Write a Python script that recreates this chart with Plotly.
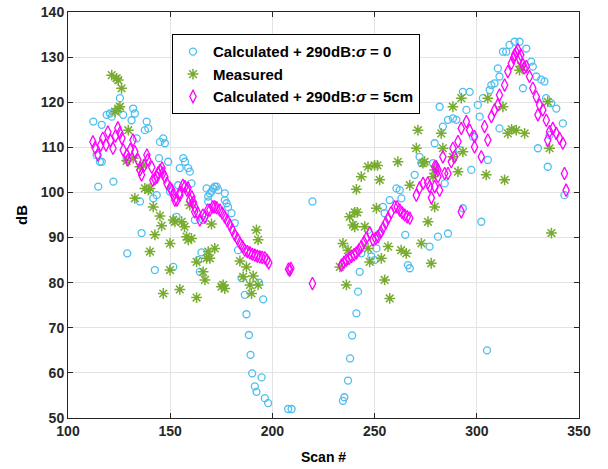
import plotly.graph_objects as go

# Calculated + 290dB, sigma = 0  (cyan circles)
calc0_x = [112.4, 114.0, 114.8, 115.6, 116.5, 116.5, 118.9, 120.5, 121.4, 122.2, 125.4, 127.0, 128.7, 129.0,
           131.1, 131.9, 132.7, 133.6, 135.2, 136.0, 137.6, 138.5, 139.3, 141.7, 142.5, 143.4, 144.5, 145.0,
           146.6, 147.4, 149.0, 149.9, 151.5, 153.1, 153.9, 154.7, 156.4, 157.2, 158.8, 159.6, 160.4, 162.1,
           163.7, 164.5, 165.3, 166.1, 167.8, 168.6, 168.6, 169.4, 170.2, 171.0, 171.8, 172.7, 173.5, 176.7,
           176.7, 177.6, 178.3, 180.0, 181.6, 183.2, 184.9, 186.5, 187.3, 188.5, 189.3, 190.1, 191.4, 192.2,
           193.5, 194.7, 195.5, 196.3, 197.9, 207.7, 209.4, 219.6,
           234.5, 235.2, 237.0, 238.0, 239.0, 241.1, 241.9, 242.7, 243.5, 246.8, 248.4, 250.0, 250.9, 252.5,
           254.1, 254.9, 257.4, 260.7, 262.3, 263.1, 265.0, 266.3, 267.2, 269.6, 272.0, 272.9, 276.9, 278.6,
           279.4, 281.0, 281.8, 283.4, 284.3, 285.9, 285.9, 288.3, 290.0, 305.0, 291.6, 293.2, 293.2, 294.9,
           296.5, 297.3, 298.1, 300.5, 301.4, 302.2, 303.0, 305.4, 306.3, 307.1, 308.7, 310.3, 311.1, 311.1,
           312.8, 314.4, 316.0, 318.5, 320.9, 322.6, 324.2, 326.6, 327.4, 329.1, 329.9, 331.5, 333.1, 333.9,
           334.7, 335.6, 336.4, 338.9, 342.1, 342.9]
calc0_y = [115.7, 108.3, 101.3, 106.8, 115.0, 106.8, 117.2, 117.5, 116.8, 102.4, 120.9, 117.2, 107.2, 86.5,
           116.0, 118.6, 117.5, 112.0, 98.0, 91.0, 113.8, 115.7, 114.2, 98.7, 82.8, 99.4, 107.6, 111.2,
           112.0, 110.9, 106.8, 100.2, 83.5, 94.6, 101.6, 105.4, 107.6, 106.8, 105.4, 104.6, 102.0, 93.9,
           85.0, 82.4, 86.7, 93.9, 100.9, 99.1, 98.0, 99.8, 100.2, 100.9, 101.3, 101.3, 100.5, 99.8,
           98.3, 97.6, 96.8, 95.4, 93.2, 87.2, 81.0, 77.3, 73.0, 68.4, 64.0, 59.9, 57.0, 55.8,
           80.0, 59.0, 76.3, 54.4, 53.3, 52.0, 52.0, 98.0,
           53.8, 54.6, 58.3, 63.2, 68.3, 73.2, 78.0, 82.4, 86.5, 91.7, 85.8, 85.0, 87.6, 90.9,
           96.8, 95.4, 98.3, 100.9, 100.5, 98.7, 90.6, 83.9, 83.2, 103.9, 107.9, 106.5, 88.0, 106.5,
           110.9, 90.2, 119.0, 114.6, 102.0, 116.1, 90.9, 116.4, 116.1, 65.0, 109.4, 122.3, 96.5, 118.3,
           122.3, 105.0, 112.4, 119.4, 116.8, 93.5, 120.9, 107.2, 122.7, 123.8, 124.2, 127.5, 125.7, 114.2,
           131.2, 131.2, 132.7, 133.4, 133.4, 123.1, 131.9, 129.0, 127.9, 125.7, 109.8, 125.0, 124.6, 120.9,
           105.7, 112.7, 119.8, 118.6, 115.3, 99.4]

# Measured (green asterisks)
meas_x = [121.4, 123.8, 124.6, 126.2, 123.0, 124.6, 125.4, 129.5, 128.7, 131.9, 132.7, 135.2, 136.8, 137.6,
          139.3, 140.1, 140.1, 141.7, 142.5, 145.0, 145.8, 146.6, 149.9, 149.9, 151.5, 152.3, 154.7, 155.6,
          157.0, 158.0, 158.8, 159.6, 160.4, 162.9, 162.9, 166.1, 167.0, 167.8, 168.6, 169.4, 170.2, 171.8,
          175.1, 175.9, 176.7, 184.1, 185.7, 187.3, 189.0, 189.8, 190.6, 192.2, 193.0, 193.0,
          233.0, 234.5, 236.2, 237.0, 237.8, 239.4, 240.3, 241.5, 240.3, 241.1, 243.5, 245.2, 246.8, 246.8,
          247.6, 250.0, 251.4, 250.9, 252.5, 253.3, 254.9, 256.6, 257.4, 261.4, 263.0, 265.5, 267.2, 270.4,
          271.2, 272.9, 273.7, 274.5, 276.1, 277.7, 278.6, 279.4, 279.4, 282.6, 283.4, 288.3, 288.3, 290.8,
          292.4, 293.2, 304.6, 305.4, 312.8, 313.6, 315.2, 317.0, 319.3, 320.9, 321.5, 323.4, 334.7, 335.6,
          336.5]
meas_y = [126.0, 125.3, 124.9, 123.1, 117.9, 118.6, 119.0, 113.8, 107.0, 107.6, 98.7, 105.7, 106.1, 100.9,
          100.5, 100.9, 86.9, 96.8, 90.6, 94.8, 92.6, 77.6, 88.7, 82.8, 93.9, 93.5, 78.5, 93.5,
          92.4, 90.2, 89.5, 97.2, 89.8, 84.6, 76.7, 82.4, 80.6, 85.4, 86.9, 85.4, 93.0, 87.6,
          79.1, 79.5, 78.7, 84.8, 81.3, 83.5, 79.5, 77.6, 81.5, 91.7, 89.5, 79.5,
          83.5, 88.7, 79.5, 87.2, 94.6, 92.8, 95.6, 95.6, 92.4, 100.7, 103.5, 92.4, 105.7, 87.6,
          84.6, 106.0, 106.0, 96.5, 102.8, 85.4, 80.6, 88.0, 76.5, 106.8, 87.2, 86.5, 101.6, 109.8,
          113.8, 88.7, 106.5, 106.8, 93.5, 84.3, 103.5, 96.8, 105.0, 113.1, 109.8, 119.0, 107.9, 104.6,
          120.9, 109.0, 103.9, 120.9, 119.0, 102.8, 113.1, 114.0, 113.8, 127.1, 128.0, 113.1, 120.1, 109.8,
          91.0]

# Calculated + 290dB, sigma = 5cm (magenta diamonds)
calc5_x = [112.2, 113.2, 114.7, 116.0, 117.0, 118.6, 119.5, 120.8, 122.0, 123.2, 124.4, 125.4, 126.4, 127.0,
           128.8, 129.3, 130.5, 131.8, 132.7, 134.2, 135.2, 136.0, 137.3, 138.6, 139.0, 141.0, 141.5, 142.5,
           143.5, 144.0, 145.0, 146.0, 146.4, 147.4, 148.4, 149.9, 150.8, 151.6, 152.3, 153.3, 154.7, 154.7,
           156.2, 157.2, 158.2, 158.7, 159.6, 160.6, 161.3, 162.0, 162.0, 163.5, 164.5, 166.0, 167.0, 168.4,
           169.4, 170.9, 171.8, 172.8, 174.3, 175.5, 176.7, 178.0, 179.2, 180.4, 181.6, 182.9, 184.1, 185.3,
           186.5, 187.8, 189.0, 190.2, 191.4, 192.6, 193.8, 195.0, 196.3, 197.3, 198.2, 207.9, 208.5, 209.0,
           219.6,
           233.8, 235.0, 236.2, 237.5, 238.7, 240.0, 241.1, 242.3, 243.5, 244.8, 246.0, 247.6, 249.2, 250.5,
           251.7, 253.0, 254.1, 255.4, 256.6, 258.0, 259.8, 261.0, 262.3, 263.5, 264.7, 266.0, 267.2, 270.4,
           272.0, 273.7, 276.0, 276.9, 277.8, 279.4, 279.4, 280.2, 281.0, 281.0, 281.8, 283.4, 284.3, 285.9,
           287.5, 288.3, 289.1, 290.8, 292.4, 292.4, 294.9, 296.5, 298.9, 298.9, 302.2, 303.8, 305.4, 307.1,
           308.7, 310.3, 311.1, 313.6, 315.2, 316.9, 318.0, 318.5, 319.3, 320.1, 320.9, 321.5, 322.6, 323.2,
           324.2, 325.8, 327.4, 329.1, 329.9, 330.7, 332.3, 334.0, 334.7, 335.6, 337.2, 338.9, 340.5, 342.1,
           342.9, 343.7]
calc5_y = [111.2, 109.9, 108.3, 110.5, 112.0, 110.5, 113.4, 111.5, 109.8, 112.5, 114.3, 113.2, 112.0, 109.4,
           108.3, 107.2, 109.5, 111.6, 109.0, 107.2, 105.0, 103.9, 106.0, 108.3, 107.2, 105.6, 102.7, 103.0,
           103.4, 104.3, 104.9, 105.4, 104.3, 103.4, 102.0, 101.0, 100.5, 99.4, 98.3, 98.3, 99.4, 100.0,
           101.6, 101.3, 100.5, 101.0, 98.3, 99.0, 97.8, 96.8, 95.7, 95.4, 93.9, 95.0, 94.6, 96.1,
           96.1, 96.8, 96.8, 96.6, 96.1, 95.4, 94.6, 93.7, 92.8, 91.7, 90.6, 89.7, 88.8, 88.0,
           87.2, 86.9, 86.6, 86.3, 86.1, 85.9, 85.7, 85.6, 85.5, 85.0, 84.4, 83.0, 82.8, 83.2,
           79.8,
           83.9, 84.5, 85.0, 85.4, 85.8, 86.2, 86.6, 87.3, 88.0, 89.0, 89.9, 91.0, 89.5, 89.8,
           90.2, 91.2, 92.1, 93.2, 94.3, 95.5, 96.8, 96.8, 96.1, 95.5, 95.0, 94.6, 94.3, 99.4,
           101.0, 102.0, 102.1, 101.3, 98.8, 101.3, 105.7, 105.7, 103.5, 105.0, 100.5, 107.9, 104.2, 104.2,
           106.8, 109.8, 107.9, 111.3, 114.2, 95.7, 115.7, 113.8, 110.1, 112.4, 107.9, 114.6, 111.6, 116.8,
           118.3, 119.4, 121.6, 123.8, 126.8, 128.6, 129.8, 130.5, 131.0, 131.6, 129.7, 130.5, 128.3, 127.6,
           127.9, 125.7, 123.1, 121.2, 117.2, 119.4, 118.3, 116.0, 111.6, 113.5, 114.2, 113.1, 112.0, 110.9,
           104.2, 100.5]

x_ticks = [100, 150, 200, 250, 300, 350]
y_ticks = [50, 60, 70, 80, 90, 100, 110, 120, 130, 140]
x_title = "Scan #"
y_title = "dB"

CYAN = "#4DBEEE"
GREEN = "#77AC30"
MAGENTA = "#FF00FF"

fig = go.Figure()
fig.add_trace(go.Scatter(
    x=calc0_x, y=calc0_y, mode="markers",
    name="Calculated + 290dB:<i>σ</i> = 0",
    marker=dict(symbol="circle-open", size=7, color=CYAN, line=dict(width=1.3, color=CYAN)),
))
fig.add_trace(go.Scatter(
    x=meas_x, y=meas_y, mode="markers",
    name="Measured",
    marker=dict(symbol="asterisk-open", size=9, color=GREEN, line=dict(width=1.5, color=GREEN)),
))
fig.add_trace(go.Scatter(
    x=calc5_x, y=calc5_y, mode="markers",
    name="Calculated + 290dB:<i>σ</i> = 5cm",
    marker=dict(symbol="diamond-tall-open", size=9, color=MAGENTA, line=dict(width=1.3, color=MAGENTA)),
))

font_family = "Liberation Sans, Arial, sans-serif"
fig.update_layout(
    width=608, height=469,
    margin=dict(l=68, r=29, t=12, b=51),
    paper_bgcolor="white", plot_bgcolor="white",
    font=dict(family=font_family, size=13, color="#262626"),
    showlegend=True,
    legend=dict(
        x=0.2035, y=0.945, xanchor="left", yanchor="top",
        bgcolor="white", bordercolor="black", borderwidth=1,
        font=dict(family=font_family, size=15, color="black", weight="bold"),
        tracegroupgap=0, itemsizing="trace",
    ),
    annotations=[
        dict(text="<b>" + x_title + "</b>", xref="paper", yref="paper", x=0.5, y=-0.096,
             xanchor="center", yanchor="middle", showarrow=False,
             font=dict(family=font_family, size=14, color="black")),
        dict(text="<b>" + y_title + "</b>", xref="paper", yref="paper", x=-0.092, y=0.5,
             xanchor="center", yanchor="middle", showarrow=False, textangle=-90,
             font=dict(family=font_family, size=15, color="black")),
    ],
)
fig.update_xaxes(
    range=[100, 350], tickvals=x_ticks, ticktext=[str(v) for v in x_ticks],
    showgrid=True, gridcolor="#E3E3E3", gridwidth=1, zeroline=False,
    showline=True, linecolor="#262626", linewidth=1, mirror="allticks",
    ticks="inside", ticklen=5, tickcolor="#262626", automargin=False,
    tickfont=dict(family=font_family, size=14, color="#262626", weight="bold"),
)
fig.update_yaxes(
    range=[50, 140], tickvals=y_ticks, ticktext=[str(v) for v in y_ticks],
    showgrid=True, gridcolor="#E3E3E3", gridwidth=1, zeroline=False,
    showline=True, linecolor="#262626", linewidth=1, mirror="allticks",
    ticks="inside", ticklen=5, tickcolor="#262626", automargin=False,
    tickfont=dict(family=font_family, size=14, color="#262626", weight="bold"),
)

fig.write_html("out.html")
